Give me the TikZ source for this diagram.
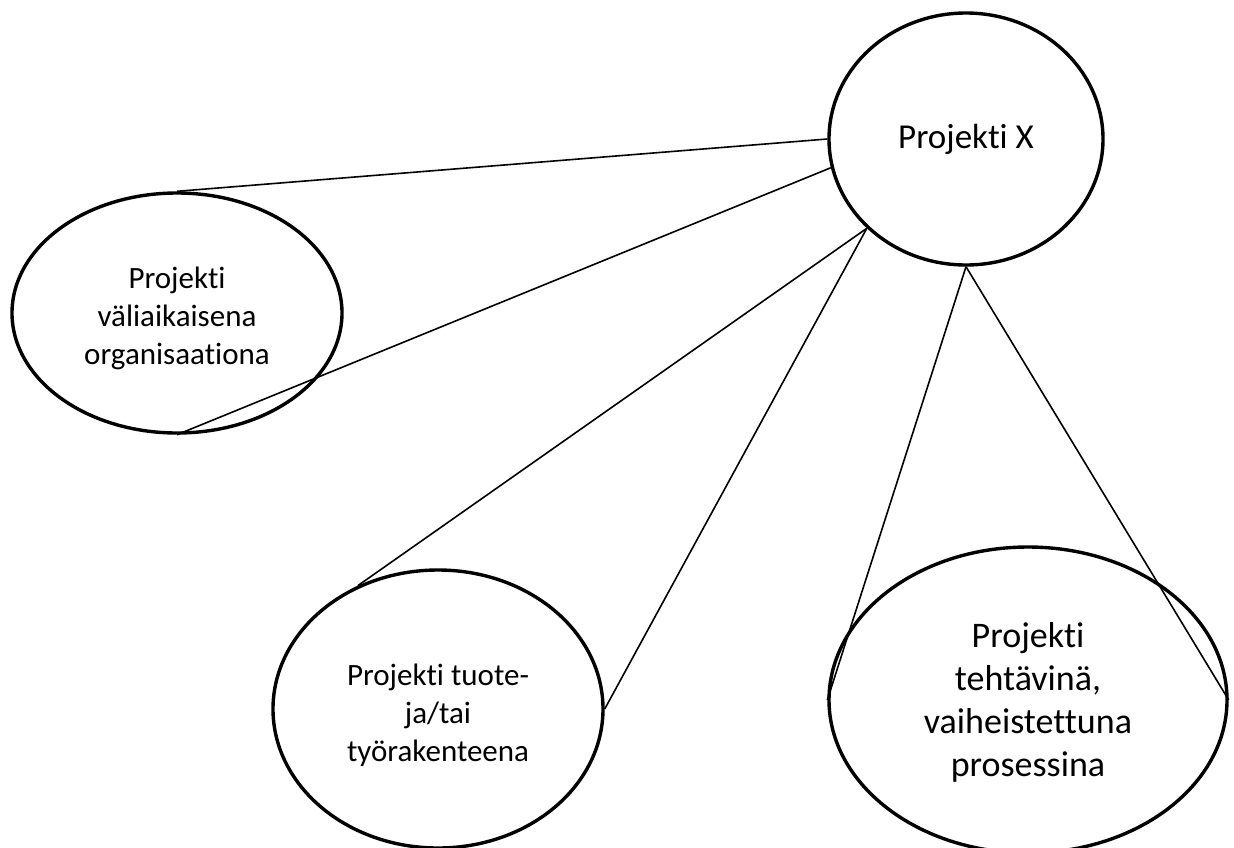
\documentclass[tikz,border=0pt]{standalone}
\usepackage{fontspec}
\setmainfont{Carlito}[Ligatures=NoCommon]
\usetikzlibrary{shapes.geometric}
% centred block of lines, drawn a little lower than its box
\newcommand{\lowered}[2]{\raisebox{-#1}[\height][\depth]{\begin{tabular}{@{}c@{}}#2\end{tabular}}}
\begin{document}
\begin{tikzpicture}[x=1pt,y=-1pt,
  bubble/.style={ellipse,draw=black,line width=3.4pt,inner sep=0pt},
  link/.style={draw=black,line width=1.6pt}]
\useasboundingbox[fill=white] (0,0) rectangle (1234,847);
% central project
\node[bubble,minimum width=274pt,minimum height=252pt,font=\fontsize{35}{42}\selectfont]
  (px) at (966,139) {Projekti X};
% three views of the project
\node[bubble,minimum width=330pt,minimum height=240pt,font=\fontsize{31}{38}\selectfont]
  (org) at (177,313) {\lowered{6pt}{Projekti\\väliaikaisena\\organisaationa}};
\node[bubble,minimum width=330pt,minimum height=278pt,font=\fontsize{31}{38}\selectfont]
  (wbs) at (438,709) {\lowered{7pt}{Projekti tuote-\\ja/tai\\työrakenteena}};
\node[bubble,minimum width=398pt,minimum height=306pt,font=\fontsize{36}{43}\selectfont]
  (proc) at (1028,700) {\lowered{3pt}{Projekti\\tehtävinä,\\vaiheistettuna\\prosessina}};
% connectors
\draw[link] (px.west) -- (org.north);
\draw[link] (px.192) -- (org.south);
\draw[link] (px.222) -- (wbs.123);
\draw[link] (px.222) -- (wbs.east);
\draw[link] (px.south) -- (proc.west);
\draw[link] (px.south) -- (proc.east);
\end{tikzpicture}
\end{document}
